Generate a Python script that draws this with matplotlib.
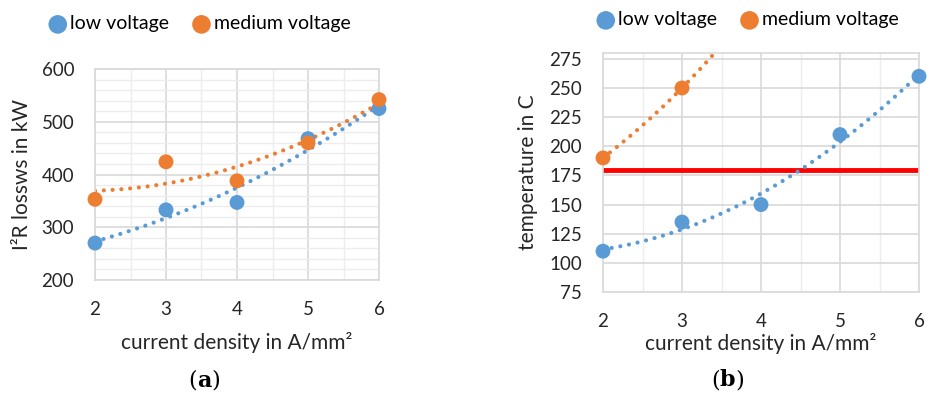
import numpy as np
import matplotlib
matplotlib.use('Agg')
import matplotlib.pyplot as plt
from matplotlib.ticker import MultipleLocator

plt.rcParams['font.family'] = ['Lato', 'DejaVu Sans']

# data
current_density = [2, 3, 4, 5, 6]
loss_low = [270, 333, 347, 468, 525]
loss_medium = [353, 424, 388, 460, 542]

temp_density_low = [2, 3, 4, 5, 6]
temp_low = [110, 135, 150, 210, 260]
temp_density_medium = [2, 3]
temp_medium = [190, 250]
temp_limit = 180

BLUE = '#5B9BD5'
ORANGE = '#ED7D31'
GRID_MAJOR = '#D9D9D9'
GRID_MINOR = '#EDEDED'
TEXT = '#262626'


def trend(x, y, x_end):
    # excel style trendlines: polynomial (2) where possible, exponential otherwise
    x = np.array(x, float)
    y = np.array(y, float)
    xs = np.linspace(x[0], x_end, 300)
    if len(x) > 2:
        return xs, np.polyval(np.polyfit(x, y, 2), xs)
    b, a = np.polyfit(x, np.log(y), 1)
    return xs, np.exp(a + b * xs)


def style_axes(ax, ymin, ymax, ymajor, yminor):
    ax.set_xlim(2, 6)
    ax.set_ylim(ymin, ymax)
    ax.xaxis.set_major_locator(MultipleLocator(1))
    ax.xaxis.set_minor_locator(MultipleLocator(0.5))
    ax.yaxis.set_major_locator(MultipleLocator(ymajor))
    if yminor:
        ax.yaxis.set_minor_locator(MultipleLocator(yminor))
    ax.grid(which='major', color=GRID_MAJOR, lw=1.2, zorder=0)
    ax.grid(which='minor', color=GRID_MINOR, lw=1.0, zorder=0)
    ax.set_axisbelow(True)
    for side in ['top', 'right', 'left', 'bottom']:
        ax.spines[side].set_color(GRID_MAJOR)
        ax.spines[side].set_linewidth(1.2)
    ax.tick_params(which='both', length=0, labelsize=13.5, colors=TEXT, pad=15)


def scatter_with_trend(ax, x, y, color, label, x_end):
    xs, ys = trend(x, y, x_end)
    ax.plot(xs, ys, color=color, lw=3, linestyle=(0, (0.01, 2.1)),
            dash_capstyle='round', zorder=2)
    ax.scatter(x, y, s=115, color=color, zorder=3, label=label,
               edgecolors='none', clip_on=False)


def add_legend(ax, cx, cy):
    ax.legend(loc='center', bbox_to_anchor=(cx / W, 1 - cy / H),
              bbox_transform=fig.transFigure, ncol=2, frameon=False,
              fontsize=14, handletextpad=0.0, handlelength=1.3,
              columnspacing=1.0, markerscale=1.25, borderaxespad=0)


def panel_tag(x, y, letter):
    # "(" + bold letter + ")" placed one after another
    left = fig.text(x, y, '(', ha='left', va='center', fontsize=16,
                    family='DejaVu Serif', color='black')
    fig.canvas.draw()
    r = fig.canvas.get_renderer()
    bb = left.get_window_extent(r)
    mid = fig.text(bb.x1 / fig.bbox.width, y, letter, ha='left', va='center',
                   fontsize=16, family='DejaVu Serif', fontweight='bold',
                   color='black')
    fig.canvas.draw()
    bb2 = mid.get_window_extent(r)
    fig.text(bb2.x1 / fig.bbox.width, y, ')', ha='left', va='center',
             fontsize=16, family='DejaVu Serif', color='black')


fig = plt.figure(figsize=(9.27, 3.97), dpi=100)
W, H = 927, 397

# panel (a)
ax1 = fig.add_axes([95 / W, 1 - 280 / H, (379 - 95) / W, (280 - 69) / H])
style_axes(ax1, 200, 600, 100, 20)
scatter_with_trend(ax1, current_density, loss_low, BLUE, 'low voltage', 6)
scatter_with_trend(ax1, current_density, loss_medium, ORANGE, 'medium voltage', 6)
ax1.set_ylabel('I²R lossws in kW', fontsize=15, color=TEXT, labelpad=7)
ax1.set_xlabel('current density in A/mm²', fontsize=15, color=TEXT, labelpad=10)
add_legend(ax1, 198, 24)

# panel (b)
ax2 = fig.add_axes([603 / W, 1 - 292 / H, (919 - 603) / W, (292 - 53) / H])
style_axes(ax2, 75, 280, 25, None)
ax2.set_yticks(np.arange(75, 276, 25))
ax2.axhline(temp_limit, color='#FF0000', lw=3.5, zorder=2)
scatter_with_trend(ax2, temp_density_low, temp_low, BLUE, 'low voltage', 6)
scatter_with_trend(ax2, temp_density_medium, temp_medium, ORANGE, 'medium voltage', 3.5)
ax2.set_ylabel('temperature in C', fontsize=15, color=TEXT, labelpad=8)
ax2.set_xlabel('current density in A/mm²', fontsize=15, color=TEXT, labelpad=2)
add_legend(ax2, 746, 20)

panel_tag(188 / W, 1 - 381 / H, 'a')
panel_tag(711 / W, 1 - 380 / H, 'b')

fig.savefig('out.png', dpi=100)
